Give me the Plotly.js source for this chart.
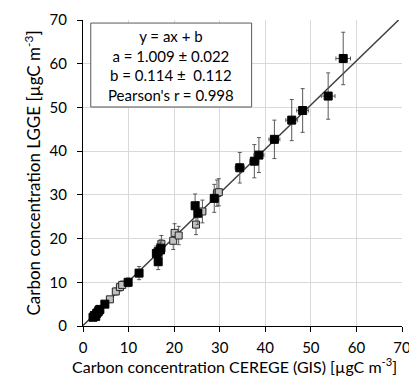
<!DOCTYPE html>
<html>
<head>
<meta charset="utf-8">
<script src="https://cdn.plot.ly/plotly-3.0.1.min.js"></script>
<style>html,body{margin:0;padding:0;background:#fff}#chart{width:409px;height:376px}</style>
</head>
<body>
<div id="chart"></div>
<script>
// Black squares series
const blackX    = [2.2, 2.5, 2.8, 3.0, 3.3, 3.5, 3.7, 4.8, 9.9, 12.3, 16.1, 16.5, 16.5, 17.0, 17.1, 24.6, 25.2, 28.8, 34.4, 37.6, 38.6, 42.0, 45.8, 48.2, 53.8, 57.1];
const blackY    = [2.0, 2.4, 2.2, 2.9, 3.2, 3.6, 3.8, 5.0, 10.0, 12.1, 16.6, 17.0, 14.7, 17.4, 17.8, 27.5, 25.8, 29.2, 36.2, 37.7, 39.1, 42.7, 47.1, 49.3, 52.6, 61.2];
const blackYErr = [0.3, 0.3, 0.3, 0.3, 0.4, 0.4, 0.4, 0.5, 1.0, 1.5, 1.7, 1.8, 1.8, 1.8, 1.9, 2.7, 2.6, 3.2, 3.5, 3.8, 4.0, 4.4, 4.7, 5.0, 5.3, 6.0];
const blackXErr = [0.1, 0.1, 0.1, 0.1, 0.1, 0.1, 0.1, 0.15, 0.3, 0.35, 0.5, 0.5, 0.5, 0.5, 0.5, 0.7, 0.7, 0.8, 1.0, 1.0, 1.1, 1.2, 1.3, 1.3, 1.5, 1.6];
// Grey squares series
const greyX    = [5.9, 7.2, 8.1, 8.6, 17.2, 19.8, 20.1, 21.0, 24.8, 26.2, 29.4, 29.8];
const greyY    = [6.1, 7.9, 8.9, 9.4, 18.8, 19.5, 21.3, 20.7, 23.2, 26.2, 30.4, 30.6];
const greyYErr = [0.6, 0.8, 0.9, 0.9, 1.9, 2.0, 2.1, 2.1, 2.3, 2.6, 3.0, 3.1];
const greyXErr = [0.2, 0.2, 0.2, 0.25, 0.5, 0.5, 0.6, 0.6, 0.7, 0.7, 0.8, 0.8];
// Fit
const slope = 1.009;
const intercept = 0.114;
const fitX = [0, (70 - intercept) / slope];
const fitY = fitX.map(x => slope * x + intercept);
const tickVals = [0, 10, 20, 30, 40, 50, 60, 70];
const fitText = ["y = ax + b", "a = 1.009 ± 0.022", "b = 0.114 ±&nbsp; 0.112", "Pearson's r = 0.998"];
const xTitle = 'Carbon concentration CEREGE (GIS) [µgC m<sup>-3</sup>]';
const yTitle = 'Carbon concentration LGGE [µgC m<sup>-3</sup>]';

const FONT = "Lato, 'Open Sans', sans-serif";
const errStyle = {color: '#595959', thickness: 1, width: 2};

const traces = [
  {x: fitX, y: fitY, mode: 'lines', line: {color: '#404040', width: 1.5}, hoverinfo: 'skip'},
  {x: greyX, y: greyY, mode: 'markers', type: 'scatter',
   marker: {symbol: 'square', size: 7, color: '#c0c0c0', line: {color: '#262626', width: 1}},
   error_y: Object.assign({type: 'data', array: greyYErr, visible: true}, errStyle),
   error_x: Object.assign({type: 'data', array: greyXErr, visible: true}, errStyle)},
  {x: blackX, y: blackY, mode: 'markers', type: 'scatter',
   marker: {symbol: 'square', size: 8, color: '#000000', line: {color: '#000000', width: 1}},
   error_y: Object.assign({type: 'data', array: blackYErr, visible: true}, errStyle),
   error_x: Object.assign({type: 'data', array: blackXErr, visible: true}, errStyle)}
];

const axisCommon = {
  range: [0, 70], tickvals: tickVals, showgrid: true, gridcolor: '#d9d9d9', gridwidth: 1,
  showline: true, linecolor: '#000', linewidth: 1, ticks: 'outside', ticklen: 5, tickcolor: '#000',
  zeroline: false, tickfont: {family: FONT, size: 15, color: '#000'}, fixedrange: true,
  ticklabeloverflow: 'allow'
};

const layout = {
  width: 409, height: 376,
  margin: {l: 83, r: 7, t: 20, b: 50},
  paper_bgcolor: '#fff', plot_bgcolor: '#fff',
  showlegend: false,
  xaxis: Object.assign({}, axisCommon, {
    ticklabelstandoff: 3,
    title: {text: '', font: {family: FONT, size: 16, color: '#000'}}
  }),
  yaxis: Object.assign({}, axisCommon, {
    ticklabelstandoff: 7,
    title: {text: yTitle, font: {family: FONT, size: 17, color: '#000'}, standoff: 4}
  }),
  shapes: [{type: 'rect', xref: 'x', yref: 'y', x0: 1.7, x1: 37.0, y0: 50.1, y1: 69.3,
            line: {color: '#595959', width: 1}, fillcolor: '#fff', layer: 'above'}],
  annotations: [
    {xref: 'x', yref: 'y', x: 19.35, y: 59.7, showarrow: false,
     text: fitText.join('<br>'), align: 'center',
     font: {family: FONT, size: 15, color: '#000'}},
    {xref: 'paper', yref: 'paper', x: 0.475, y: -0.128, yanchor: 'middle', xanchor: 'center', showarrow: false,
     text: xTitle, font: {family: FONT, size: 16, color: '#000'}}
  ]
};

Plotly.newPlot('chart', traces, layout, {displayModeBar: false, staticPlot: true});
</script>
</body>
</html>
